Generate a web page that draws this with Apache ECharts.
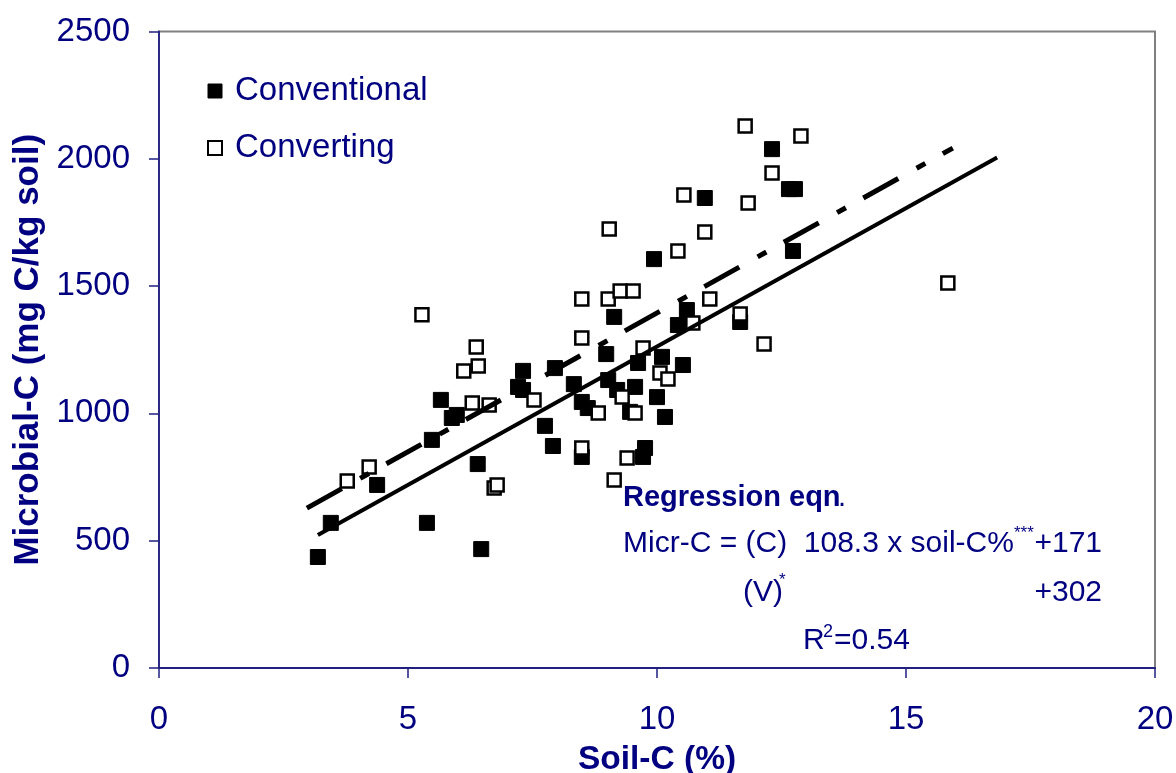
<!DOCTYPE html>
<html>
<head>
<meta charset="utf-8">
<script src="https://cdn.jsdelivr.net/npm/echarts@6/dist/echarts.min.js"></script>
<style>
html,body{margin:0;padding:0;background:#fff;}
#chart{width:1176px;height:773px;}
</style>
</head>
<body>
<div id="chart"></div>
<script>
// Conventional (filled squares)
const conventionalSoilC = [3.19,3.45,4.38,5.38,5.48,5.66,5.88,5.98,6.40,6.47,7.21,7.31,7.31,7.75,7.91,7.95,8.33,8.49,8.49,8.61,8.98,9.02,9.14,9.20,9.46,9.56,9.62,9.72,9.76,9.94,10.00,10.10,10.16,10.52,10.42,10.60,10.96,11.67,12.31,12.65,12.77,12.73];
const conventionalMicrC = [436,570,719,570,896,1053,982,994,801,467,1104,1167,1092,951,872,1178,1115,1045,829,1021,1233,1131,1379,1092,1006,1104,1198,829,864,1606,1064,1222,986,1190,1347,1406,1846,1359,2038,1881,1881,1638];
// Converting (open squares)
const convertingSoilC = [3.78,4.22,5.28,6.12,6.37,6.41,6.29,6.63,6.73,6.79,7.53,8.49,8.49,8.49,8.82,9.04,9.02,9.14,9.26,9.30,9.40,9.52,9.56,9.72,10.06,10.22,10.42,10.54,10.72,10.96,11.06,11.67,11.77,11.83,12.15,12.31,12.89,15.84];
const convertingMicrC = [734,789,1387,1167,1261,1186,1041,1033,707,719,1053,1449,1296,864,1002,1724,1449,738,1481,1064,825,1481,1002,1257,1159,1135,1638,1858,1355,1712,1449,1390,2129,1826,1273,1944,2090,1512];
// Regression lines (end points)
const regConventionalX = [3.19, 16.83];
const regConventionalY = [522, 2005];
const regConvertingX = [2.97, 15.94];
const regConvertingY = [628, 2042];
// Axis ticks
const xTickMin = 0, xTickMax = 20, xTickStep = 5;
const yTickMin = 0, yTickMax = 2500, yTickStep = 500;

const NAVY = '#000080';
const FONT = '"Liberation Sans", Arial, sans-serif';
const zip = (a, b) => a.map((v, i) => [v, b[i]]);

const chart = echarts.init(document.getElementById('chart'), null, {renderer: 'canvas'});
chart.setOption({
  animation: false,
  backgroundColor: '#fff',
  textStyle: {fontFamily: FONT},
  grid: {left: 159, right: 21, top: 31.5, bottom: 105, containLabel: false, outerBoundsMode: 'none',
         show: true, borderColor: '#808080', borderWidth: 2, backgroundColor: 'transparent'},
  legend: {
    orient: 'vertical', left: 202, top: 68, itemGap: 21, itemWidth: 14, itemHeight: 14,
    textStyle: {fontSize: 33, color: NAVY, fontFamily: FONT, padding: [0, 0, 0, 8], lineHeight: 36},
    data: [
      {name: 'Conventional', icon: 'rect', itemStyle: {color: '#000', borderColor: '#000', borderWidth: 1}},
      {name: 'Converting', icon: 'rect', itemStyle: {color: '#fff', borderColor: '#000', borderWidth: 2}}
    ]
  },
  xAxis: {
    type: 'value', min: xTickMin, max: xTickMax, interval: xTickStep,
    name: 'Soil-C (%)', nameLocation: 'middle', nameGap: 75,
    nameTextStyle: {fontSize: 33.5, fontWeight: 'bold', color: NAVY, fontFamily: FONT},
    axisLine: {show: true, lineStyle: {color: '#202080', width: 2}},
    axisTick: {show: true, length: 10, lineStyle: {color: '#202080', width: 1.5}},
    axisLabel: {fontSize: 33, color: NAVY, margin: 35, fontFamily: FONT, formatter: v => String(v)},
    splitLine: {show: false}
  },
  yAxis: {
    type: 'value', min: yTickMin, max: yTickMax, interval: yTickStep,
    name: 'Microbial-C (mg C/kg soil)', nameLocation: 'middle', nameGap: 110,
    nameTextStyle: {fontSize: 35, fontWeight: 'bold', color: NAVY, fontFamily: FONT},
    axisLine: {show: true, lineStyle: {color: '#2a2a85', width: 2}},
    axisTick: {show: true, length: 10, lineStyle: {color: '#202080', width: 1.5}},
    axisLabel: {fontSize: 33, color: NAVY, margin: 29, fontFamily: FONT, formatter: v => String(v)},
    splitLine: {show: false}
  },
  series: [
    {name: 'Conventional', type: 'scatter', symbol: 'rect', symbolSize: 15,
     itemStyle: {color: '#000', borderColor: '#000', borderWidth: 1, opacity: 1},
     data: zip(conventionalSoilC, conventionalMicrC), z: 3},
    {name: 'Converting', type: 'scatter', symbol: 'rect', symbolSize: 13,
     itemStyle: {color: '#fff', borderColor: '#000', borderWidth: 2.5, opacity: 1},
     data: zip(convertingSoilC, convertingMicrC), z: 4},
    {name: 'reg-conv', type: 'line', symbol: 'none', silent: true, z: 5,
     lineStyle: {color: '#000', width: 4, type: 'solid'},
     data: zip(regConventionalX, regConventionalY)},
    {name: 'reg-convert', type: 'line', symbol: 'none', silent: true, z: 5,
     lineStyle: {color: '#000', width: 5, type: [40, 21, 10, 20], cap: 'butt'},
     data: zip(regConvertingX, regConvertingY)}
  ],
  graphic: [
    {type: 'text', x: 623, y: 498, z: 10, style: {text: 'Regression eqn', font: 'bold 29px ' + FONT, fill: NAVY, verticalAlign: 'middle'}},
    {type: 'text', x: 838, y: 498, z: 10, style: {text: '.', font: '29px ' + FONT, fill: NAVY, verticalAlign: 'middle'}},
    {type: 'text', x: 623, y: 544, z: 10, style: {text: 'Micr-C = (C)  108.3 x soil-C%', font: '30px ' + FONT, fill: NAVY, verticalAlign: 'middle'}},
    {type: 'text', x: 1014, y: 533, z: 10, style: {text: '***', font: '17px ' + FONT, fill: NAVY, verticalAlign: 'middle'}},
    {type: 'text', x: 1102, y: 544, z: 10, style: {text: '+171', font: '30px ' + FONT, fill: NAVY, align: 'right', verticalAlign: 'middle'}},
    {type: 'text', x: 743, y: 593, z: 10, style: {text: '(V)', font: '30px ' + FONT, fill: NAVY, verticalAlign: 'middle'}},
    {type: 'text', x: 779, y: 580, z: 10, style: {text: '*', font: '17px ' + FONT, fill: NAVY, verticalAlign: 'middle'}},
    {type: 'text', x: 1102, y: 593, z: 10, style: {text: '+302', font: '30px ' + FONT, fill: NAVY, align: 'right', verticalAlign: 'middle'}},
    {type: 'text', x: 803, y: 641, z: 10, style: {text: 'R', font: '30px ' + FONT, fill: NAVY, verticalAlign: 'middle'}},
    {type: 'text', x: 823, y: 632, z: 10, style: {text: '2', font: '18px ' + FONT, fill: NAVY, verticalAlign: 'middle'}},
    {type: 'text', x: 834, y: 641, z: 10, style: {text: '=0.54', font: '30px ' + FONT, fill: NAVY, verticalAlign: 'middle'}}
  ]
});
</script>
</body>
</html>
